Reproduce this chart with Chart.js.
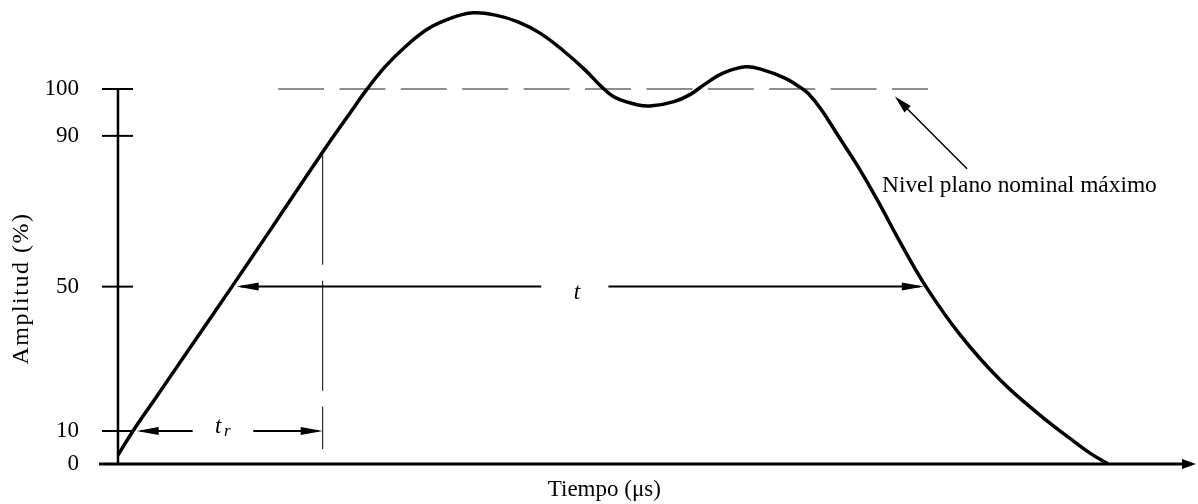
<!DOCTYPE html>
<html><head><meta charset="utf-8">
<script src="https://cdn.jsdelivr.net/npm/chart.js@4.4.1/dist/chart.umd.min.js"></script>
<style>html,body{margin:0;padding:0;background:#fff;} canvas{display:block;}</style>
</head><body>
<canvas id="c" width="1198" height="504"></canvas>
<script>
// ---------- data ----------
const timeUs = [0,1.58,3.82,7.44,12.0,15.55,19.09,21.36,22.64,24.43,26.32,28.11,30.22,32.6,35.06,37.38,39.75,42.11,44.43,46.8,49.17,51.03,52.43,54.75,56.22,58.54,60.22,61.8,63.59,66.07,67.91,70.22,71.8,72.65,74.02,75.91,78.12,80.23,82.33,85.07,88.65,92.86,97.07,100.44,102.34,104.23];
const amplitudePct = [2.7,10,18.6,32.5,50,63.2,76.5,85.0,89.7,94.9,100.3,105.9,111.2,116.0,118.9,120.3,119.7,117.9,114.9,110.4,105.1,100.3,98.1,96.6,96.4,97.3,98.8,101.3,104.1,105.9,105.1,102.9,100.5,99.1,95.7,89.7,81.0,71.7,61.9,50,36.7,24.2,14.4,7.3,3.3,0];
const yTickValues = [0,10,50,90,100];
const yTickLabels = ['0','10','50','90','100'];
const nominalLevel = 100;
const nominalSpan = [16.85, 85.28];
const riseMarkTime = 21.55;
const riseMarkRange = [85, 4.5];
const durationLevel = 50;
const durationSpan = [12.5, 84.84];
const durationGapAt = 48.1;
const riseLevel = 10;
const riseSpan = [1.97, 21.55];
const riseGapAt = 11.05;
const noteTip = [81.8, 98.4];
const noteTail = [89.39, 81.3];
const xTitle = 'Tiempo (μs)';
const yTitle = 'Amplitud (%)';
const noteText = 'Nivel plano nominal máximo';
const durationText = 't';
const riseText = ['t', 'r'];

// ---------- schematic (non-linear) amplitude scale ----------
const warpValues  = [0, 10, 50, 90, 100];
const warpVirtual = [0, 8.8, 47.3, 87.5, 100];
function interp(v, xs, ys) {
  if (v <= xs[0]) return ys[0] + (v - xs[0]);
  for (let i = 1; i < xs.length; i++) {
    if (v <= xs[i]) return ys[i-1] + (v - xs[i-1]) * (ys[i] - ys[i-1]) / (xs[i] - xs[i-1]);
  }
  return ys[ys.length-1] + (v - xs[xs.length-1]);
}
class WarpScale extends Chart.LinearScale {
  getPixelForValue(v) {
    if (v === null || v === undefined || isNaN(v)) return NaN;
    return super.getPixelForValue(interp(v, warpValues, warpVirtual));
  }
  getValueForPixel(p) {
    return interp(super.getValueForPixel(p), warpVirtual, warpValues);
  }
}
WarpScale.id = 'warp';
WarpScale.defaults = Chart.LinearScale.defaults;
Chart.register(WarpScale);

const SERIF = "'Liberation Serif', 'Times New Roman', serif";

const annot = {
  id: 'annot',
  afterDraw(chart) {
    const {ctx} = chart;
    const xs = chart.scales.x, ys = chart.scales.y;
    const X = t => xs.getPixelForValue(t), Y = v => ys.getPixelForValue(v);
    ctx.save();
    ctx.strokeStyle = '#000'; ctx.fillStyle = '#000'; ctx.lineCap = 'butt';
    const seg = (x1,y1,x2,y2,w) => { ctx.lineWidth = w; ctx.beginPath(); ctx.moveTo(x1,y1); ctx.lineTo(x2,y2); ctx.stroke(); };
    const head = (tx,ty,fx,fy,len,half) => {
      const a = Math.atan2(ty-fy, tx-fx), c = Math.cos(a), s = Math.sin(a);
      ctx.beginPath();
      ctx.moveTo(tx, ty);
      ctx.lineTo(tx - len*c + half*s, ty - len*s - half*c);
      ctx.lineTo(tx - len*c - half*s, ty - len*s + half*c);
      ctx.closePath(); ctx.fill();
    };
    const x0 = X(0), y0 = Y(0);
    // x axis with arrow
    seg(xs.left, y0, xs.right - 10, y0, 3);
    head(xs.right, y0, xs.left, y0, 14, 5);
    // y axis with crossing ticks
    seg(x0, Y(yTickValues[yTickValues.length-1]), x0, y0 + 1, 2.5);
    yTickValues.forEach(v => { if (v > 0) seg(x0 - 16, Y(v), x0 + 15, Y(v), 2); });

    // duration arrow t
    let yl = Y(durationLevel), L = X(durationSpan[0]), R = X(durationSpan[1]), g = X(durationGapAt);
    seg(L + 4, yl, g - 33.6, yl, 2);
    seg(g + 33.6, yl, R - 4, yl, 2);
    head(L, yl, R, yl, 22, 4);
    head(R, yl, L, yl, 22, 4);
    ctx.font = 'italic 23px ' + SERIF; ctx.textAlign = 'center'; ctx.textBaseline = 'alphabetic';
    ctx.fillText(durationText, g + 2, yl + 12);

    // rise-time arrow t_r
    yl = Y(riseLevel); L = X(riseSpan[0]); R = X(riseSpan[1]); g = X(riseGapAt);
    seg(L + 4, yl, g - 30.3, yl, 2);
    seg(g + 30.3, yl, R - 4, yl, 2);
    head(L, yl, R, yl, 22, 4);
    head(R, yl, L, yl, 22, 4);
    ctx.textAlign = 'left';
    ctx.font = 'italic 23px ' + SERIF;
    ctx.fillText(riseText[0], g - 8, yl + 2);
    ctx.font = 'italic 17px ' + SERIF;
    ctx.fillText(riseText[1], g + 1, yl + 5);

    // note arrow
    const tx = X(noteTip[0]), ty = Y(noteTip[1]), fx = X(noteTail[0]), fy = Y(noteTail[1]);
    const ang = Math.atan2(ty - fy, tx - fx);
    seg(fx, fy, tx - 10*Math.cos(ang), ty - 10*Math.sin(ang), 1.5);
    head(tx, ty, fx, fy, 18, 4.5);
    ctx.font = '23.4px ' + SERIF; ctx.textAlign = 'left';
    ctx.fillText(noteText, fx - 85, fy + 23);

    // axis titles
    ctx.font = '23px ' + SERIF;
    ctx.textAlign = 'center';
    ctx.fillText(xTitle, X(51.2), y0 + 32);
    ctx.save();
    ctx.translate(x0 - 90, Y(50) + 2);
    ctx.rotate(-Math.PI / 2);
    ctx.font = '24px ' + SERIF;
    ctx.letterSpacing = '1.5px';
    ctx.fillText(yTitle, 0, 0);
    ctx.restore();
    ctx.restore();
  }
};

new Chart(document.getElementById('c'), {
  type: 'line',
  data: {
    datasets: [
      {
        data: timeUs.map((t, i) => ({x: t, y: amplitudePct[i]})),
        borderColor: '#000', borderWidth: 3.5, pointRadius: 0,
        tension: 0.4, fill: false
      },
      {
        data: nominalSpan.map(t => ({x: t, y: nominalLevel})),
        borderColor: '#6a6a6a', borderWidth: 1.5, borderDash: [46, 15.4], pointRadius: 0, fill: false
      },
      {
        data: riseMarkRange.map(v => ({x: riseMarkTime, y: v})),
        borderColor: '#000', borderWidth: 1, borderDash: [110, 16], pointRadius: 0, fill: false
      }
    ]
  },
  options: {
    responsive: false, animation: false, devicePixelRatio: 1,
    layout: {padding: {left: 0, right: 2, top: 0, bottom: 40}},
    plugins: {legend: {display: false}, tooltip: {enabled: false}},
    scales: {
      x: {type: 'linear', min: -2, max: 113.5, display: false},
      y: {
        type: 'warp', min: 0, max: 123.73, position: 'left',
        grid: {display: false, drawTicks: false}, border: {display: false},
        ticks: {autoSkip: false, padding: 20, color: '#000', font: {family: SERIF, size: 23},
                callback: (v, i) => yTickLabels[i]},
        afterBuildTicks: s => { s.ticks = yTickValues.map(v => ({value: v})); },
        afterFit: s => { s.width = 99; s.paddingTop = 0; s.paddingBottom = 0; }
      }
    }
  },
  plugins: [annot]
});
</script>
</body></html>
